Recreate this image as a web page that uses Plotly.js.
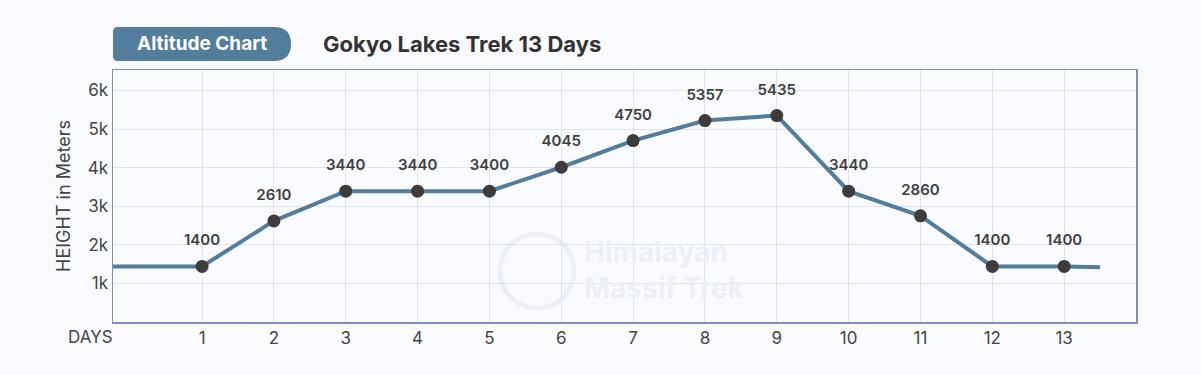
<!DOCTYPE html>
<html>
<head>
<meta charset="utf-8">
<script src="https://cdn.plot.ly/plotly-3.0.1.min.js"></script>
<style>
html,body{margin:0;padding:0;background:#fafbfe;}
#chart{width:1201px;height:375px;}
</style>
</head>
<body>
<div id="chart"></div>
<script>
// ---- data ----
const days = [1,2,3,4,5,6,7,8,9,10,11,12,13];
// marker heights as drawn in the reference (metres)
const altitudes = [1440,2620,3390,3390,3390,4010,4700,5220,5350,3390,2750,1440,1440];
// labels printed above each marker
const altitudeLabels = ["1400","2610","3440","3440","3400","4045","4750","5357","5435","3440","2860","1400","1400"];
const leadX = [-0.5, 1];
const leadY = [1440, 1440];
const tailX = [13, 13.5];
const tailY = [1440, 1420];
const yTickVals = [1000,2000,3000,4000,5000,6000];
const yTickText = ["1k","2k","3k","4k","5k","6k"];
const chartTitle = "Gokyo Lakes Trek 13 Days";
const badgeText = "Altitude Chart";
const watermarkText = "Himalayan<br>Massif Trek";

// ---- layout helpers (pixel -> paper) ----
const W = 1201, H = 375;
const M = {l:113, r:65, t:70, b:53};
const pw = W - M.l - M.r, ph = H - M.t - M.b;
const px = x => (x - M.l) / pw;
const py = y => (H - M.b - y) / ph;

const lineColor = "#527d9b";
const fontMain = "Inter, Open Sans, sans-serif";

const traces = [
  {x: leadX, y: leadY, mode: "lines", line: {color: lineColor, width: 4}, hoverinfo: "skip", showlegend: false},
  {x: tailX, y: tailY, mode: "lines", line: {color: lineColor, width: 4}, hoverinfo: "skip", showlegend: false},
  {x: days, y: altitudes, mode: "lines+markers",
   line: {color: lineColor, width: 4},
   marker: {color: "#3c3c3c", size: 13},
   cliponaxis: false, showlegend: false},
  // value labels (transparent spacer markers push the text above the dots)
  {x: days, y: altitudes, mode: "markers+text", text: altitudeLabels, textposition: "top center",
   textfont: {family: fontMain, size: 15, color: "#404040", weight: 600},
   marker: {color: "rgba(0,0,0,0)", size: 26},
   cliponaxis: false, showlegend: false, hoverinfo: "skip"}
];

// badge path (left corners slight radius, right end fully rounded)
const bx0 = 113, bx1 = 291, by0 = 27, by1 = 61, rr = 17, rl = 5;
const badgePath =
  `M ${px(bx0+rl)} ${py(by0)} L ${px(bx1-rr)} ${py(by0)} ` +
  `Q ${px(bx1)} ${py(by0)} ${px(bx1)} ${py((by0+by1)/2)} ` +
  `Q ${px(bx1)} ${py(by1)} ${px(bx1-rr)} ${py(by1)} ` +
  `L ${px(bx0+rl)} ${py(by1)} Q ${px(bx0)} ${py(by1)} ${px(bx0)} ${py(by1-rl)} ` +
  `L ${px(bx0)} ${py(by0+rl)} Q ${px(bx0)} ${py(by0)} ${px(bx0+rl)} ${py(by0)} Z`;

const layout = {
  width: W, height: H,
  margin: M,
  paper_bgcolor: "#fafbfe",
  plot_bgcolor: "#fafbfe",
  font: {family: fontMain, color: "#444"},
  xaxis: {
    range: [-0.24, 14],
    tickvals: days,
    ticktext: days.map(String),
    showgrid: true, gridcolor: "#dbe3ec", gridwidth: 1,
    zeroline: false,
    showline: true, linecolor: "#7f8fb6", linewidth: 1.5, mirror: true,
    ticks: "", tickfont: {size: 17, color: "#444"},
    fixedrange: true
  },
  yaxis: {
    range: [0, 6530],
    tickvals: yTickVals, ticktext: yTickText,
    showgrid: true, gridcolor: "#dbe3ec", gridwidth: 1,
    zeroline: false,
    showline: true, linecolor: "#7f8fb6", linewidth: 1.5, mirror: true,
    ticks: "", ticklen: 0, tickfont: {size: 17, color: "#444"},
    title: {text: "HEIGHT in Meters", font: {size: 18, color: "#444"}, standoff: 12},
    fixedrange: true
  },
  shapes: [
    {type: "path", xref: "paper", yref: "paper", path: badgePath, fillcolor: "#527d9b", line: {width: 0}, layer: "above"},
    // watermark circle
    {type: "circle", xref: "paper", yref: "paper", x0: px(500), x1: px(574), y0: py(234), y1: py(308),
     line: {color: "#eceff4", width: 5}, fillcolor: "rgba(0,0,0,0)", layer: "below"}
  ],
  annotations: [
    {text: "<b>" + badgeText + "</b>", xref: "paper", yref: "paper", x: px(202), y: py(44),
     showarrow: false, font: {size: 19, color: "#ffffff", family: fontMain}, xanchor: "center", yanchor: "middle"},
    {text: "<b>" + chartTitle + "</b>", xref: "paper", yref: "paper", x: px(321), y: py(44),
     showarrow: false, font: {size: 22, color: "#333333", family: fontMain}, xanchor: "left", yanchor: "middle"},
    {text: "DAYS", xref: "paper", yref: "paper", x: px(115), y: py(337),
     showarrow: false, font: {size: 17, color: "#444"}, xanchor: "right", yanchor: "middle"},
    {text: "<b>" + watermarkText + "</b>", xref: "paper", yref: "paper", x: px(582), y: py(270),
     showarrow: false, align: "left", font: {size: 28, color: "#ecf0f4", family: fontMain},
     xanchor: "left", yanchor: "middle"}
  ]
};

Plotly.newPlot("chart", traces, layout, {displayModeBar: false, staticPlot: true});
</script>
</body>
</html>
